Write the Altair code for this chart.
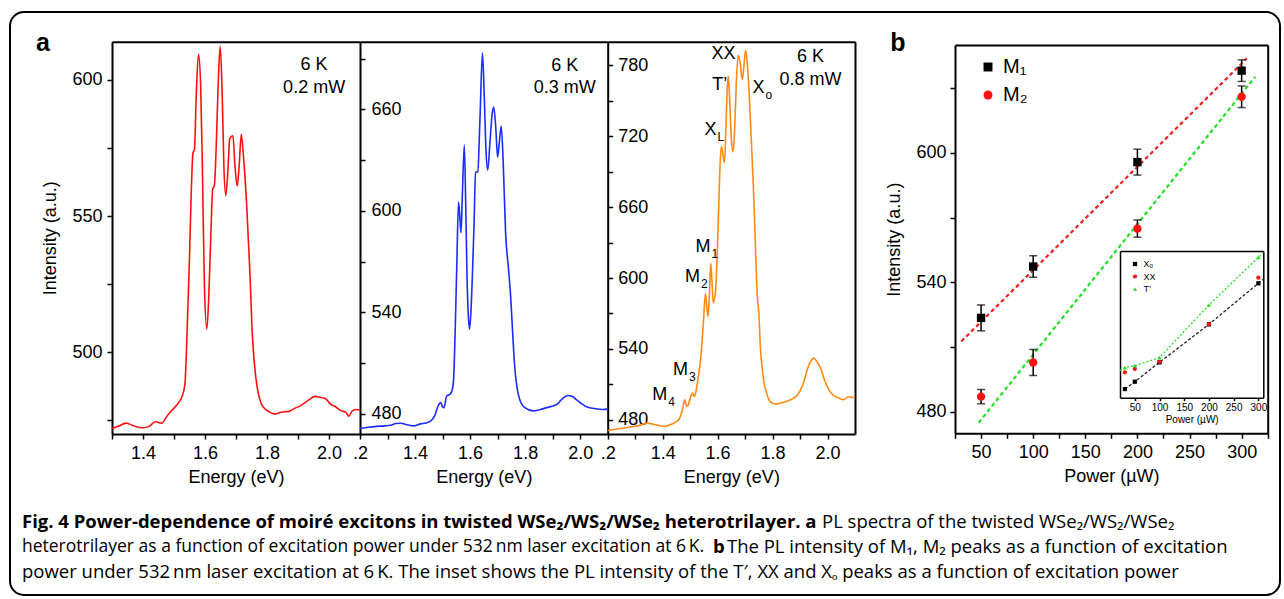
import altair as alt
import pandas as pd

# ------------------------------------------------------------------ data
# panel a, 0.2 mW spectrum (red)
E_02 = [1.300, 1.320, 1.345, 1.370, 1.400, 1.420, 1.440, 1.460, 1.480, 1.500, 1.515, 1.525,
        1.535, 1.543, 1.550, 1.556, 1.561, 1.566, 1.572, 1.579, 1.586, 1.592, 1.598, 1.606,
        1.612, 1.618, 1.625, 1.630, 1.636, 1.643, 1.649, 1.655, 1.661, 1.667, 1.673, 1.680,
        1.690, 1.697, 1.704, 1.710, 1.717, 1.724, 1.734, 1.745, 1.752, 1.760, 1.770, 1.780,
        1.793, 1.810, 1.826, 1.845, 1.870, 1.891, 1.910, 1.935, 1.955, 1.970, 1.988, 2.005,
        2.021, 2.040, 2.054, 2.064, 2.075, 2.090, 2.100]
I_02 = [472.0, 472.8, 474.0, 473.0, 472.3, 472.8, 474.5, 474.0, 477.0, 479.5, 481.5, 483.5,
        488.0, 510.0, 535.0, 560.0, 573.0, 574.5, 595.0, 609.5, 598.0, 565.0, 525.0, 508.5,
        520.0, 540.0, 560.0, 561.0, 575.0, 600.0, 612.3, 597.0, 568.0, 557.5, 565.0, 578.5,
        579.5, 568.0, 561.0, 568.0, 580.0, 572.0, 555.0, 529.0, 508.0, 495.0, 486.0, 481.5,
        479.3, 478.0, 477.3, 478.0, 478.3, 479.5, 480.5, 482.5, 483.8, 483.5, 483.0, 481.0,
        480.0, 478.5, 478.0, 476.5, 478.5, 479.0, 478.8]

# panel a, 0.3 mW spectrum (blue)
E_03 = [1.200, 1.230, 1.260, 1.290, 1.311, 1.330, 1.348, 1.370, 1.397, 1.420, 1.440, 1.459,
        1.472, 1.484, 1.493, 1.500, 1.505, 1.515, 1.527, 1.535, 1.540, 1.546, 1.552, 1.558,
        1.563, 1.567, 1.572, 1.579, 1.584, 1.589, 1.594, 1.598, 1.603, 1.608, 1.614, 1.620,
        1.628, 1.636, 1.645, 1.652, 1.658, 1.664, 1.672, 1.680, 1.686, 1.693, 1.700, 1.706,
        1.713, 1.720, 1.729, 1.740, 1.748, 1.755, 1.761, 1.770, 1.780, 1.799, 1.830, 1.855,
        1.879, 1.900, 1.916, 1.930, 1.941, 1.955, 1.972, 1.988, 2.003, 2.025, 2.052, 2.080,
        2.100]
I_03 = [471.3, 472.0, 472.5, 472.8, 473.2, 474.2, 474.4, 473.5, 472.8, 474.0, 474.5, 476.0,
        479.0, 484.7, 486.6, 484.0, 483.6, 490.5, 491.5, 494.0, 500.0, 530.0, 570.0, 605.2,
        596.0, 587.1, 610.0, 638.9, 605.0, 560.0, 537.0, 530.0, 540.0, 560.0, 590.0, 622.6,
        623.2, 655.0, 693.5, 665.0, 635.0, 624.1, 640.0, 657.0, 661.4, 650.0, 631.8, 640.0,
        650.1, 630.0, 587.1, 565.0, 547.7, 527.0, 510.3, 496.0, 488.6, 483.6, 481.7, 482.5,
        483.6, 484.5, 485.6, 488.0, 489.6, 490.8, 490.2, 488.0, 486.2, 484.0, 483.1, 482.5,
        482.7]

# panel a, 0.8 mW spectrum (orange)
E_08 = [1.200, 1.240, 1.270, 1.296, 1.320, 1.344, 1.370, 1.405, 1.430, 1.450, 1.459, 1.466,
        1.472, 1.480, 1.485, 1.490, 1.500, 1.508, 1.516, 1.522, 1.528, 1.538, 1.548, 1.556,
        1.561, 1.565, 1.570, 1.575, 1.580, 1.584, 1.588, 1.593, 1.601, 1.608, 1.613, 1.618,
        1.622, 1.625, 1.630, 1.635, 1.639, 1.644, 1.650, 1.656, 1.662, 1.668, 1.675, 1.682,
        1.690, 1.696, 1.702, 1.708, 1.716, 1.724, 1.732, 1.738, 1.744, 1.750, 1.756, 1.763,
        1.770, 1.775, 1.785, 1.799, 1.815, 1.835, 1.855, 1.877, 1.890, 1.902, 1.915, 1.926,
        1.940, 1.950, 1.962, 1.975, 1.990, 2.005, 2.020, 2.041, 2.060, 2.075, 2.084, 2.100]
I_08 = [471.0, 472.5, 473.5, 474.4, 475.5, 477.2, 476.0, 474.4, 476.0, 478.5, 480.0, 484.0,
        488.5, 496.9, 493.0, 491.3, 498.0, 502.6, 499.7, 505.0, 513.8, 530.7, 561.7, 587.1,
        575.0, 567.3, 585.0, 612.4, 595.0, 579.0, 582.0, 590.0, 637.8, 690.0, 711.0, 707.0,
        700.0, 697.4, 725.0, 760.0, 770.7, 750.0, 718.0, 706.7, 725.0, 765.0, 788.5, 782.0,
        767.9, 780.0, 792.7, 782.0, 750.4, 710.0, 665.9, 625.0, 587.0, 570.2, 540.0, 522.3,
        510.0, 505.4, 498.0, 494.1, 493.5, 494.6, 496.0, 498.4, 501.0, 505.4, 513.0, 522.3,
        530.0, 532.2, 529.0, 523.7, 513.0, 505.4, 501.0, 498.4, 497.0, 499.5, 499.2, 498.4]

# panel a annotations
COND_TEXT = ["6 K", "0.2 mW", "6 K", "0.3 mW", "6 K", "0.8 mW"]
COND_E = [1.952, 1.952, 1.944, 1.944, 1.938, 1.938]
COND_I = [605.5, 596.9, 685.6, 672.8, 786.8, 767.3]

PEAK_MAIN = ["XX", "T\u2019", "X", "X", "M", "M", "M", "M"]
PEAK_SUB = ["", "", "o", "L", "1", "2", "3", "4"]
PEAK_E = [1.6655, 1.6353, 1.771, 1.5964, 1.5745, 1.5356, 1.492, 1.417]
PEAK_I = [789.9, 763.1, 761.2, 725.1, 626.5, 601.1, 522.3, 501.2]

# panel b
POWER = [50, 100, 200, 300]
M1_I = [523.5, 547.3, 595.7, 638.1]
M1_ERR = [6.0, 5.0, 6.0, 5.0]
M2_I = [487.0, 502.8, 564.9, 626.0]
M2_ERR = [3.3, 6.0, 4.0, 5.0]
FIT1_P = [31, 305]
FIT1_I = [512.6, 643.8]
FIT2_P = [47.7, 313]
FIT2_I = [474.9, 635.3]

# inset (arbitrary units)
INSET_P = [30, 50, 100, 200, 300]
XO_I = [5.9, 10.9, 24.1, 50.0, 78.0]
XX_I = [17.3, 19.6, 24.5, 50.0, 81.8]
TP_I = [20.5, 21.8, 27.3, 63.2, 95.7]
XO_LINE_P = [30, 50, 100, 200, 300, 310]
XO_LINE_I = [5.9, 10.9, 24.1, 50.0, 78.0, 80.8]
TP_LINE_P = [20, 30, 50, 100, 200, 300, 310]
TP_LINE_I = [18.5, 20.5, 21.8, 27.3, 63.2, 95.7, 98.6]

# tick values
XA_LEFT = [1.3, 1.4, 1.5, 1.6, 1.7, 1.8, 1.9, 2.0]
XA_OTHER = [1.2, 1.3, 1.4, 1.5, 1.6, 1.7, 1.8, 1.9, 2.0]
YA_LEFT = [475, 500, 525, 550, 575, 600]
YA_MID = [480, 510, 540, 570, 600, 630, 660, 690]
YA_RIGHT = [480, 510, 540, 570, 600, 630, 660, 690, 720, 750, 780]
XB = [25, 50, 75, 100, 125, 150, 175, 200, 225, 250, 275, 300, 325]
YB = [480, 510, 540, 570, 600, 630]
XI = [50, 100, 150, 200, 250, 300]

# ------------------------------------------------------------------ layout helpers
W, H = 1270, 583
FONT = "Liberation Sans"
CAP_FONT = "Open Sans"


def sc(dom, rng):
    return alt.Scale(domain=dom, range=rng, nice=False, zero=False)


def _off(orient, pos):
    return {"top": -pos, "bottom": pos - H, "left": -pos, "right": pos - W}[orient]


def border(orient, pos, width=2):
    return alt.Axis(orient=orient, offset=_off(orient, pos), ticks=False, labels=False,
                    title=None, domainColor="black", domainWidth=width, grid=False)


def axis(orient, pos, values, expr, title=None, size=18, tick=5, dw=2, **kw):
    return alt.Axis(orient=orient, offset=_off(orient, pos), values=values, labelExpr=expr,
                    title=title, tickSize=tick, tickWidth=1.5, tickColor="black",
                    domainColor="black", domainWidth=dw, labelFont=FONT, labelFontSize=size,
                    labelColor="black", titleFont=FONT, titleFontSize=size,
                    titleFontWeight="normal", titleColor="black", labelFlush=False,
                    labelOverlap=False, labelBound=False, grid=False, **kw)


F1 = "format(datum.value,'.1f')"
LBL_E_LEFT = f"indexof(['1.4','1.6','1.8','2.0'], {F1}) >= 0 ? {F1} : ''"
LBL_E_OTHER = f"{F1} == '1.2' ? '.2' : (indexof(['1.4','1.6','1.8','2.0'], {F1}) >= 0 ? {F1} : '')"
LBL_50 = "datum.value % 50 == 0 ? format(datum.value,'d') : ''"
LBL_60 = "(datum.value - 480) % 60 == 0 ? format(datum.value,'d') : ''"

# panel pixel ranges inside the view
XL, XM, XR, XE = 102, 350, 597.7, 845
YT, YBOT = 29.7, 422
BX0, BX1, BY0, BY1 = 945, 1257.7, 421.3, 33
IX0, IX1, IY0, IY1 = 1110, 1253.3, 385.7, 239

SX_L = sc([1.3, 2.1], [XL, XM])
SX_M = sc([1.2, 2.1], [XM, XR])
SX_R = sc([1.2, 2.1], [XR, XE])
SY_L = sc([470, 614], [YBOT, YT])
SY_M = sc([468, 700], [YBOT, YT])
SY_R = sc([468, 800], [YBOT, YT])
SX_B = sc([25, 325], [BX0, BX1])
SY_B = sc([470, 650], [BY0, BY1])
SX_I = sc([20, 310], [IX0, IX1])
SY_I = sc([0, 100], [IY0, IY1])

layers = []

# ------------------------------------------------------------------ panel a
spectra = [
    (E_02, I_02, "#ff1010", SX_L, SY_L,
     axis("bottom", YBOT, XA_LEFT, LBL_E_LEFT, "Energy (eV)", labelPadding=5, titlePadding=6),
     axis("left", XL, YA_LEFT, LBL_50, "Intensity (a.u.)", labelPadding=5, titlePadding=12)),
    (E_03, I_03, "#1a2cff", SX_M, SY_M,
     axis("bottom", YBOT, XA_OTHER, LBL_E_OTHER, "Energy (eV)", labelPadding=5, titlePadding=6),
     axis("right", XM, YA_MID, LBL_60, None, labelPadding=6)),
    (E_08, I_08, "#ff8a14", SX_R, SY_R,
     axis("bottom", YBOT, XA_OTHER, LBL_E_OTHER, "Energy (eV)", labelPadding=5, titlePadding=6),
     axis("right", XR, YA_RIGHT, LBL_60, None, labelPadding=5)),
]
for e, i, col, sx, sy, ax, ay in spectra:
    df = pd.DataFrame({"E": e, "I": i})
    layers.append(
        alt.Chart(df).mark_line(color=col, strokeWidth=1.6, interpolate="monotone").encode(
            x=alt.X("E:Q", scale=sx, axis=ax),
            y=alt.Y("I:Q", scale=sy, axis=ay),
        )
    )

cond = pd.DataFrame({"t": COND_TEXT, "E": COND_E, "I": COND_I})
for k, (sx, sy) in enumerate([(SX_L, SY_L), (SX_M, SY_M), (SX_R, SY_R)]):
    ay = border("right", XE) if k == 2 else None
    layers.append(
        alt.Chart(cond.iloc[2 * k:2 * k + 2]).mark_text(
            font=FONT, fontSize=18, color="black", align="center", baseline="middle"
        ).encode(
            x=alt.X("E:Q", scale=sx, axis=border("top", YT)),
            y=alt.Y("I:Q", scale=sy, axis=ay),
            text="t:N",
        )
    )

peaks = pd.DataFrame({"m": PEAK_MAIN, "s": PEAK_SUB, "E": PEAK_E, "I": PEAK_I})
layers.append(
    alt.Chart(peaks).mark_text(font=FONT, fontSize=18, color="black", align="right",
                               baseline="middle").encode(
        x=alt.X("E:Q", scale=SX_R, axis=None), y=alt.Y("I:Q", scale=SY_R, axis=None), text="m:N")
)
layers.append(
    alt.Chart(peaks).mark_text(font=FONT, fontSize=12, color="black", align="left",
                               baseline="middle", dx=1, dy=7).encode(
        x=alt.X("E:Q", scale=SX_R, axis=None), y=alt.Y("I:Q", scale=SY_R, axis=None), text="s:N")
)

# ------------------------------------------------------------------ panel b
fit1 = pd.DataFrame({"P": FIT1_P, "I": FIT1_I})
fit2 = pd.DataFrame({"P": FIT2_P, "I": FIT2_I})
layers.append(
    alt.Chart(fit1).mark_line(color="#ee2020", strokeWidth=2.2, strokeDash=[4, 3]).encode(
        x=alt.X("P:Q", scale=SX_B,
                axis=axis("bottom", BY0, XB, LBL_50, "Power (\u00b5W)", labelPadding=5, titlePadding=6)),
        y=alt.Y("I:Q", scale=SY_B,
                axis=axis("left", BX0, YB, LBL_60, "Intensity (a.u.)", labelPadding=4, titlePadding=12)),
    )
)
layers.append(
    alt.Chart(fit2).mark_line(color="#22e022", strokeWidth=2.2, strokeDash=[4, 3]).encode(
        x=alt.X("P:Q", scale=SX_B, axis=border("top", BY1)),
        y=alt.Y("I:Q", scale=SY_B, axis=border("right", BX1)),
    )
)

pts = pd.DataFrame({
    "P": POWER + POWER,
    "I": M1_I + M2_I,
    "lo": [v - e for v, e in zip(M1_I, M1_ERR)] + [v - e for v, e in zip(M2_I, M2_ERR)],
    "hi": [v + e for v, e in zip(M1_I, M1_ERR)] + [v + e for v, e in zip(M2_I, M2_ERR)],
    "series": ["M\u2081"] * 4 + ["M\u2082"] * 4,
})
layers.append(
    alt.Chart(pts).mark_rule(color="black", strokeWidth=1.5).encode(
        x=alt.X("P:Q", scale=SX_B, axis=None), y=alt.Y("lo:Q", scale=SY_B, axis=None), y2="hi:Q")
)
for fld in ["lo", "hi"]:
    layers.append(
        alt.Chart(pts).mark_tick(color="black", orient="horizontal", size=8, thickness=1.5).encode(
            x=alt.X("P:Q", scale=SX_B, axis=None), y=alt.Y(f"{fld}:Q", scale=SY_B, axis=None))
    )
bleg = alt.Legend(orient="none", legendX=968, legendY=45, title=None,
                  labelFont=FONT, labelFontSize=20, labelColor="black",
                  symbolSize=80, symbolStrokeWidth=0, rowPadding=8,
                  padding=0, labelOffset=5)
layers.append(
    alt.Chart(pts).mark_point(filled=True, size=70, opacity=1).encode(
        x=alt.X("P:Q", scale=SX_B, axis=None),
        y=alt.Y("I:Q", scale=SY_B, axis=None),
        color=alt.Color("series:N", scale=alt.Scale(domain=["M\u2081", "M\u2082"], range=["black", "#ff1010"]),
                        legend=bleg),
        shape=alt.Shape("series:N", scale=alt.Scale(domain=["M\u2081", "M\u2082"], range=["square", "circle"]),
                        legend=bleg),
    )
)

# ------------------------------------------------------------------ inset
xo_line = pd.DataFrame({"P": XO_LINE_P, "I": XO_LINE_I})
tp_line = pd.DataFrame({"P": TP_LINE_P, "I": TP_LINE_I})
layers.append(
    alt.Chart(xo_line).mark_line(color="#222222", strokeWidth=1.3, strokeDash=[3, 2]).encode(
        x=alt.X("P:Q", scale=SX_I,
                axis=axis("bottom", IY0, XI, "format(datum.value,'d')", "Power (\u00b5W)", size=10,
                          tick=3, dw=1.5, labelPadding=2, titlePadding=2)),
        y=alt.Y("I:Q", scale=SY_I, axis=border("left", IX0, 1.5)),
    )
)
layers.append(
    alt.Chart(tp_line).mark_line(color="#22e022", strokeWidth=1.3, strokeDash=[2, 2]).encode(
        x=alt.X("P:Q", scale=SX_I, axis=border("top", IY1, 1.5)),
        y=alt.Y("I:Q", scale=SY_I, axis=border("right", IX1, 1.5)),
    )
)
INSET_NAMES = ["X\u2092", "XX", "T\u2019"]
ins = pd.DataFrame({
    "P": INSET_P * 3,
    "I": XO_I + XX_I + TP_I,
    "peak": [INSET_NAMES[0]] * 5 + [INSET_NAMES[1]] * 5 + [INSET_NAMES[2]] * 5,
})
ileg = alt.Legend(orient="none", legendX=1120.5, legendY=247.5, title=None, labelFont=FONT,
                  labelFontSize=9, labelColor="black", symbolSize=18, symbolStrokeWidth=0,
                  rowPadding=2.5, padding=0, labelOffset=4)
layers.append(
    alt.Chart(ins).mark_point(filled=True, size=18, opacity=1).encode(
        x=alt.X("P:Q", scale=SX_I, axis=None),
        y=alt.Y("I:Q", scale=SY_I, axis=None),
        color=alt.Color("peak:N", scale=alt.Scale(domain=INSET_NAMES, range=["black", "#ff1010", "#22e022"]),
                        legend=ileg),
        shape=alt.Shape("peak:N", scale=alt.Scale(domain=INSET_NAMES, range=["square", "circle", "triangle-up"]),
                        legend=ileg),
    )
)

# ------------------------------------------------------------------ panel letters and caption
ONE = alt.Data(values=[{}])


def label(text, x, y, size, weight="normal", font=FONT, align="left"):
    return alt.Chart(ONE).mark_text(font=font, fontSize=size, fontWeight=weight, color="black",
                                    align=align, baseline="middle", text=text).encode(
        x=alt.value(x), y=alt.value(y))


layers.append(label("a", 33, 30.5, 25, "bold", align="center"))
layers.append(label("b", 888, 30.5, 25, "bold", align="center"))

CAP = [
    ("Fig. 4 Power-dependence of moir\u00e9 excitons in twisted WSe\u2082/WS\u2082/WSe\u2082 heterotrilayer. a",
     12, 510, 18.5, "bold"),
    ("PL spectra of the twisted WSe\u2082/WS\u2082/WSe\u2082", 812, 510, 18.5, "normal"),
    ("heterotrilayer as a function of excitation power under 532\u2009nm laser excitation at 6\u2009K.",
     12, 535, 17.5, "normal"),
    ("b", 703, 535, 18.5, "bold"),
    ("The PL intensity of M\u2081, M\u2082 peaks as a function of excitation", 717, 535, 18.5, "normal"),
    ("power under 532\u2009nm laser excitation at 6\u2009K. The inset shows the PL intensity of the "
     "T\u2032, XX and X\u2092 peaks as a function of excitation power", 12, 560, 18.5, "normal"),
]
for t, x, y, s, w in CAP:
    layers.append(label(t, x, y, s, w, font=CAP_FONT))

chart = alt.layer(*layers).resolve_scale(
    x="independent", y="independent", color="independent", shape="independent"
).properties(
    width=W, height=H,
    padding={"left": 10, "top": 12, "right": 4, "bottom": 4},
    autosize=alt.AutoSizeParams(type="none"),
).configure_view(
    stroke="black", strokeWidth=2, cornerRadius=14
).configure_axis(grid=False)

chart.save("out.html", embed_options={"renderer": "svg", "actions": False})
